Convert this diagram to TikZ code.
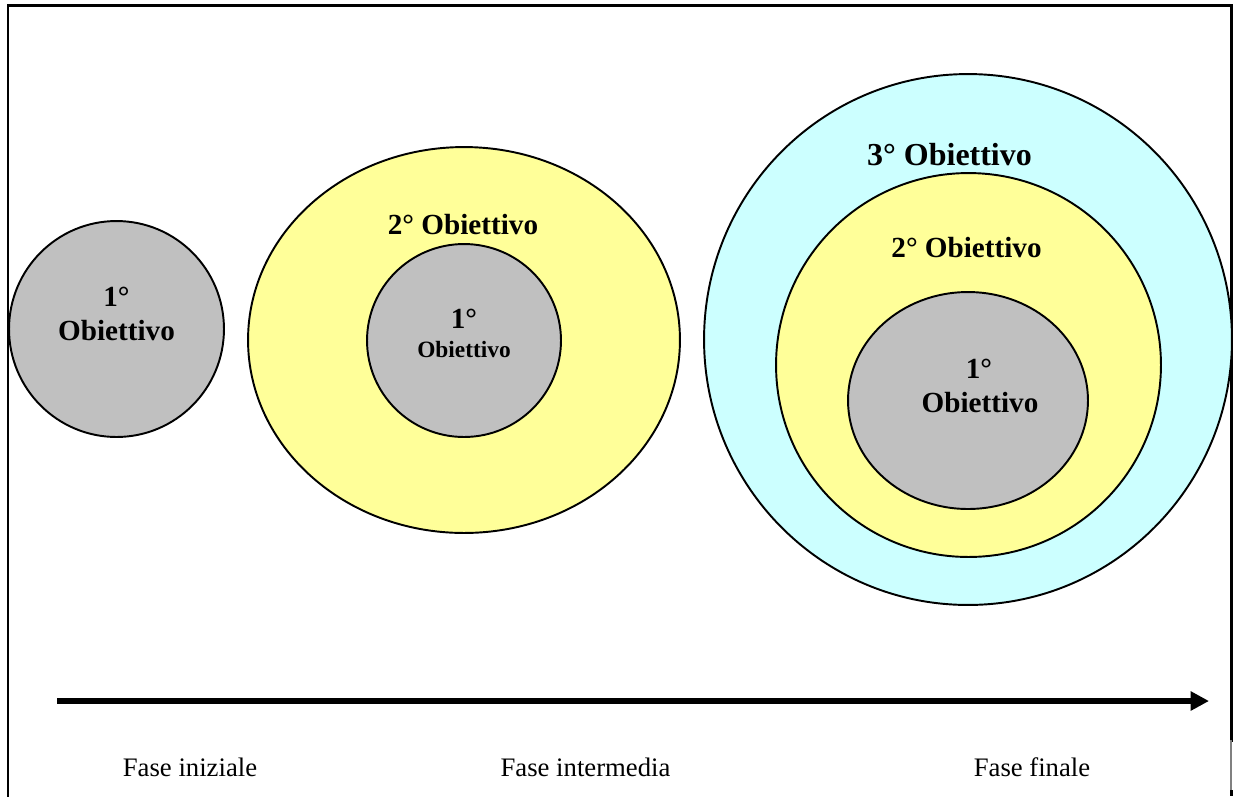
\documentclass[tikz,border=0pt]{standalone}
\usepackage{fontspec}
\setmainfont{Liberation Serif}
\usetikzlibrary{shapes.geometric,arrows.meta}
\definecolor{objgray}{HTML}{C0C0C0}
\definecolor{objyellow}{HTML}{FFFF99}
\definecolor{objcyan}{HTML}{CCFFFF}
\tikzset{
  goal/.style={ellipse, draw=black, line width=1.1pt, inner sep=0pt},
  lbl/.style={font=\bfseries\fontsize{16.6}{20}\selectfont, inner sep=0pt},
  lblsmall/.style={font=\bfseries\fontsize{13.3}{16}\selectfont, inner sep=0pt},
  lblbig/.style={font=\bfseries\fontsize{18.2}{22}\selectfont, inner sep=0pt},
  phase/.style={font=\fontsize{15.2}{18}\selectfont, inner sep=0pt},
  frameline/.style={line width=1.7pt, line cap=rect}
}
\begin{document}
\begin{tikzpicture}[x=0.02cm,y=-0.02cm]
\useasboundingbox (0,0) rectangle (1237,796);
% frame
\coordinate (fbl) at (8,796);
\coordinate (ftl) at (8,5);
\coordinate (ftr) at (1231,5);
\coordinate (fr1) at (1231,740);
\coordinate (fr2) at (1231,790);
\coordinate (fbr) at (1231,796);
\draw[frameline] (fbl) -- (ftl) -- (ftr) -- (fr1);
\draw[line width=0.6pt, gray] (fr1) -- (fr2);
\draw[line width=1.7pt] (fr2) -- (fbr);

% phase 1
\node[goal, fill=objgray, minimum width=4.30cm, minimum height=4.32cm] (g1) at (116.5,329) {};
\node[lbl] (g1a) at (116.5,297) {1°};
\node[lbl] (g1b) at (116.5,331) {Obiettivo};

% phase 2
\node[goal, fill=objyellow, minimum width=8.64cm, minimum height=7.72cm] (m2) at (464,340) {};
\node[goal, fill=objgray, minimum width=3.88cm, minimum height=3.86cm] (m1) at (464,340.5) {};
\node[lbl] (m2t) at (463,225) {2° Obiettivo};
\node[lbl] (m1a) at (464,319) {1°};
\node[lblsmall] (m1b) at (464,349) {Obiettivo};

% phase 3
\node[goal, fill=objcyan, minimum width=10.56cm, minimum height=10.62cm] (r3) at (968,339.5) {};
\node[goal, fill=objyellow, minimum width=7.70cm, minimum height=7.68cm] (r2) at (968.5,365) {};
\node[goal, fill=objgray, minimum width=4.80cm, minimum height=4.34cm] (r1) at (968,400.5) {};
\node[lblbig] (r3t) at (949.5,155) {3° Obiettivo};
\node[lbl] (r2t) at (966.5,248) {2° Obiettivo};
\node[lbl] (r1a) at (979,369) {1°};
\node[lbl] (r1b) at (980,403) {Obiettivo};

% time arrow
\coordinate (ta) at (57,701);
\coordinate (tb) at (1209,701);
\draw[line width=3.6pt, -{Triangle[length=10.5pt,width=10.5pt]}] (ta) -- (tb);

% phases
\node[phase] (p1) at (190,767) {Fase iniziale};
\node[phase] (p2) at (585.5,767) {Fase intermedia};
\node[phase] (p3) at (1032,767) {Fase finale};
\end{tikzpicture}
\end{document}
